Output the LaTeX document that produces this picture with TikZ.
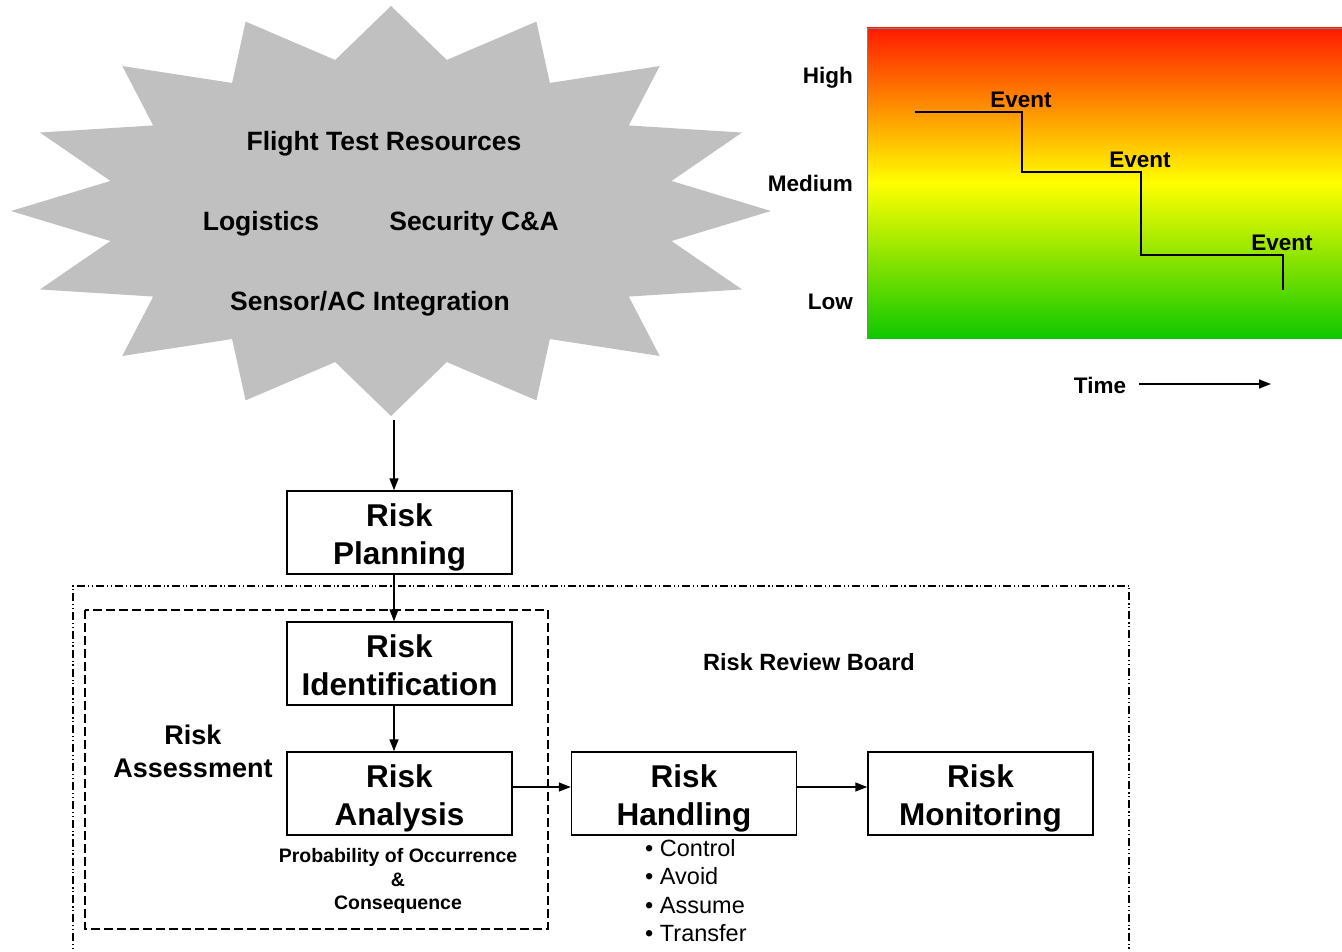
\documentclass[tikz,border=0pt]{standalone}
\usepackage{fontspec}
\setmainfont{Liberation Sans}
\usetikzlibrary{arrows.meta}
\definecolor{stargray}{HTML}{C0C0C0}
\definecolor{topred}{HTML}{FF1A00}
\definecolor{midyellow}{HTML}{FFFF00}
\definecolor{botgreen}{HTML}{0FC800}
\newcommand{\boxstrut}{\rule{0pt}{33pt}}
\newcommand{\boxdepth}{\rule[-7pt]{0pt}{7pt}}
\begin{document}
\begin{tikzpicture}[x=1pt,y=-1pt,
  box/.style={draw, line width=1.5pt, minimum width=225pt, minimum height=83pt, align=center, inner sep=0pt,
    font=\fontsize{31.5}{38}\selectfont\bfseries},
  arr/.style={-{Triangle[length=12pt,width=9pt]}, line width=1.5pt},
  startext/.style={font=\fontsize{26.5}{30}\selectfont\bfseries, inner sep=0pt},
  chartlbl/.style={font=\fontsize{22.5}{27}\selectfont\bfseries, inner sep=0pt},
  rrbframe/.style={line width=1.1pt, dash pattern=on 8pt off 3pt on 1.2pt off 2.5pt on 1.2pt off 3pt},
  raframe/.style={line width=1.5pt, dash pattern=on 9pt off 4pt}
]
\useasboundingbox (0,0) rectangle (1342,952);

% star
\fill[stargray] (391,6)
  \foreach \i in {0,...,15} {
    -- ({391+286*cos(90-\i*22.5-11.25)}, {211-154*sin(90-\i*22.5-11.25)})
    -- ({391+380*cos(90-(\i+1)*22.5)}, {211-205*sin(90-(\i+1)*22.5)})
  } -- cycle;
\coordinate (starbottom) at (394,420);
\node[startext] (ftr) at (384,144) {Flight Test Resources};
\node[startext] (logi) at (261,224) {Logistics};
\node[startext] (sec) at (474,224) {Security C\&A};
\node[startext] (sens) at (370,304) {Sensor/AC Integration};

% chart
\shade[top color=topred, bottom color=botgreen, middle color=midyellow] (867,28) rectangle (1342,338);
\draw[gray, line width=0.8pt] (867,338) -- (867,28) -- (1342,28);
\draw[line width=1.5pt] (915,112) -- (1022,112) -- (1022,172) -- (1141,172) -- (1141,255) -- (1283,255) -- (1283,290);
\node[chartlbl] (ev1) at (1021,100) {Event};
\node[chartlbl] (ev2) at (1140,160) {Event};
\node[chartlbl] (ev3) at (1282,243) {Event};
\node[chartlbl, anchor=east] (high) at (853,78) {High};
\node[chartlbl, anchor=east] (med) at (853,183) {Medium};
\node[chartlbl, anchor=east] (low) at (853,302) {Low};
\node[chartlbl] (time) at (1100,385) {Time};
\coordinate (timeend) at (1271,384);
\draw[arr] ([xshift=13pt]time.east |- timeend) -- (timeend);

% frames
\draw[rrbframe] (73,960) -- (73,586) -- (1129,586) -- (1129,960);
\draw[raframe] (85,610) rectangle (548,929);

% boxes
\node[box] (plan) at (399.5,532.5) {\boxstrut Risk\\Planning\boxdepth};
\node[box] (ident) at (399.5,663.5) {\boxstrut Risk\\Identification\boxdepth};
\node[box] (ana) at (399.5,793.5) {\boxstrut Risk\\Analysis\boxdepth};
\node[box] (hand) at (684,793.5) {\boxstrut Risk\\Handling\boxdepth};
\node[box] (mon) at (980.5,793.5) {\boxstrut Risk\\Monitoring\boxdepth};

% arrows
\draw[arr] (starbottom) -- (starbottom |- plan.north);
\draw[arr] ([xshift=-5.5pt]plan.south) -- ([xshift=-5.5pt]ident.north);
\draw[arr] ([xshift=-5.5pt]ident.south) -- ([xshift=-5.5pt]ana.north);
\draw[arr] ([yshift=6.5pt]ana.east) -- ([yshift=6.5pt]hand.west);
\draw[arr] ([yshift=6.5pt]hand.east) -- ([yshift=6.5pt]mon.west);

% labels
\node[font=\fontsize{23.5}{28}\selectfont\bfseries, inner sep=0pt] (rrb) at (809,662) {Risk Review Board};
\node[font=\fontsize{27}{33}\selectfont\bfseries, align=center, inner sep=0pt] (ra) at (193,751) {Risk\\Assessment};
\node[font=\fontsize{19.5}{23.5}\selectfont\bfseries, align=center, inner sep=0pt] (poc) at (398,881) {Probability of Occurrence\\\&\\Consequence};
\node[font=\fontsize{23.5}{28.4}\selectfont, align=left, anchor=west, inner sep=0pt] (bul) at (645,890.5) {\textbullet{} Control\\\textbullet{} Avoid\\\textbullet{} Assume\\\textbullet{} Transfer};
\end{tikzpicture}
\end{document}
